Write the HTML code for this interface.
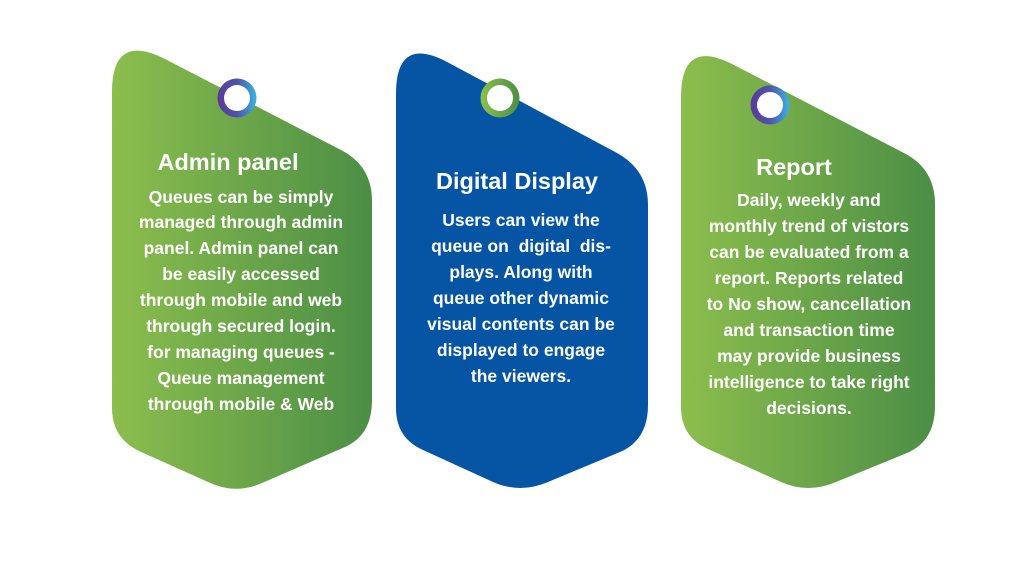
<!DOCTYPE html>
<html><head><meta charset="utf-8"><style>
html,body{margin:0;padding:0;background:#fff}
svg text{font-family:"Liberation Sans",sans-serif;font-weight:bold;fill:#fff;text-anchor:middle;dominant-baseline:central;white-space:pre}
.t{font-size:23.5px}.b{font-size:17.5px}
</style></head><body>
<svg width="1024" height="576" viewBox="0 0 1024 576" xmlns="http://www.w3.org/2000/svg">
<defs>
<linearGradient id="g1" x1="112" y1="0" x2="372" y2="0" gradientUnits="userSpaceOnUse"><stop offset="0" stop-color="#8cbe4d"/><stop offset="1" stop-color="#4b8e45"/></linearGradient>
<linearGradient id="g3" x1="681" y1="0" x2="935" y2="0" gradientUnits="userSpaceOnUse"><stop offset="0" stop-color="#8cbe4d"/><stop offset="1" stop-color="#4b8e45"/></linearGradient>
<linearGradient id="rp" x1="0" y1="0" x2="1" y2="0"><stop offset="0" stop-color="#5a3a95"/><stop offset="0.5" stop-color="#4f53a8"/><stop offset="1" stop-color="#3bb3e3"/></linearGradient>
<linearGradient id="rg" x1="0" y1="0" x2="1" y2="0"><stop offset="0" stop-color="#8cc04c"/><stop offset="1" stop-color="#4b8e45"/></linearGradient>
</defs>
<path fill="url(#g1)" d="M165,59 L341,150 Q372,166 372,201 L372,400 Q372,435 345,447 L262,483 Q235,495 208,482 L139,451 Q112,438 112,408 L112,92 Q112,32 165,59 Z"/>
<path fill="#0654a4" d="M449,63 L617,153 Q648,170 648,205 L648,405 Q648,440 620,452 L548,482 Q520,494 493,482 L423,450 Q396,438 396,408 L396,94 Q396,34 449,63 Z"/>
<path fill="url(#g3)" d="M734,65 L904,153 Q935,169 935,204 L935,406 Q935,441 907,453 L836,482 Q808,494 781,482 L708,449 Q681,437 681,407 L681,97 Q681,37 734,65 Z"/>
<circle cx="237" cy="98" r="19.5" fill="url(#rp)"/><circle cx="237" cy="98" r="13" fill="#fff"/>
<circle cx="500" cy="98" r="19.5" fill="url(#rg)"/><circle cx="500" cy="98" r="13" fill="#fff"/>
<circle cx="770" cy="105" r="19.5" fill="url(#rp)"/><circle cx="770" cy="105" r="13" fill="#fff"/>

<text class="t" x="228" y="162">Admin panel</text>
<text class="b" x="241" y="197">Queues can be simply</text>
<text class="b" x="241" y="222">managed through admin</text>
<text class="b" x="241" y="248">panel. Admin panel can</text>
<text class="b" x="241" y="274">be easily accessed</text>
<text class="b" x="241" y="300">through mobile and web</text>
<text class="b" x="241" y="326">through secured login.</text>
<text class="b" x="241" y="352">for managing queues -</text>
<text class="b" x="241" y="378">Queue management</text>
<text class="b" x="241" y="404">through mobile &amp; Web</text>

<text class="t" x="517" y="181">Digital Display</text>
<text class="b" x="521" y="220">Users can view the</text>
<text class="b" x="521" y="246">queue on  digital  dis-</text>
<text class="b" x="521" y="272">plays. Along with</text>
<text class="b" x="521" y="298">queue other dynamic</text>
<text class="b" x="521" y="324">visual contents can be</text>
<text class="b" x="521" y="350">displayed to engage</text>
<text class="b" x="521" y="376">the viewers.</text>

<text class="t" x="794" y="167">Report</text>
<text class="b" x="809" y="200">Daily, weekly and</text>
<text class="b" x="809" y="226">monthly trend of vistors</text>
<text class="b" x="809" y="252">can be evaluated from a</text>
<text class="b" x="809" y="278">report. Reports related</text>
<text class="b" x="809" y="304">to No show, cancellation</text>
<text class="b" x="809" y="330">and transaction time</text>
<text class="b" x="809" y="356">may provide business</text>
<text class="b" x="809" y="382">intelligence to take right</text>
<text class="b" x="809" y="408">decisions.</text>
</svg>
</body></html>
